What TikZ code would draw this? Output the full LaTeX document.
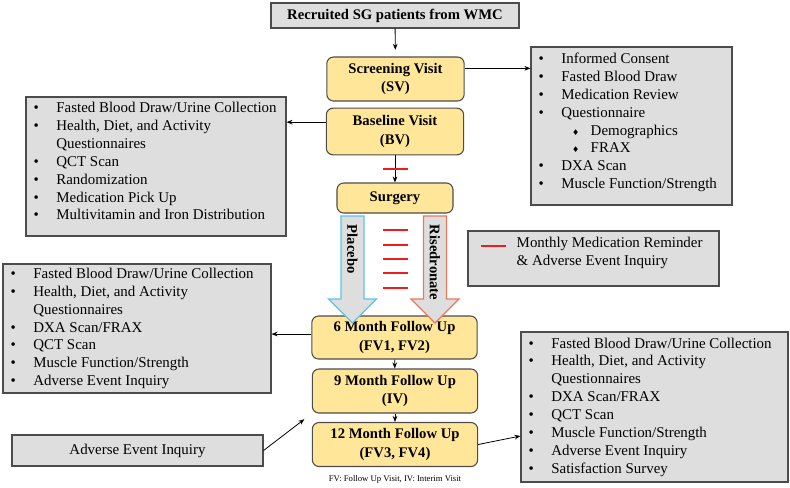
\documentclass[tikz,border=0pt]{standalone}
\usepackage{fontspec}
\setmainfont{Liberation Serif}
\newfontfamily\symfont{DejaVu Sans}
\usetikzlibrary{arrows.meta}

\definecolor{visitfill}{HTML}{FFE699}
\definecolor{boxfill}{HTML}{DEDEDE}
\definecolor{placeboline}{HTML}{5BC3EE}
\definecolor{risedline}{HTML}{E8795C}
\definecolor{remindred}{HTML}{EE1C1C}

% bullets for the lists
\newcommand{\blt}{\makebox[17pt][l]{\textbullet}}
\newcommand{\subblt}{\hspace*{25pt}\makebox[14pt][l]{{\symfont\fontsize{6}{6}\selectfont ♦}}}
\newcommand{\cont}{\hspace*{17pt}}

\begin{document}
\begin{tikzpicture}[x=0.75pt, y=-0.75pt,
	font=\fontsize{11.2}{13.4}\selectfont,
	graybox/.style={draw=black!70, fill=boxfill, line width=0.8pt},
	listtext/.style={align=left, inner sep=0pt, anchor=west},
	visit/.style={draw=black!70, fill=visitfill, line width=0.8pt, rounded corners=5pt,
		font=\fontsize{11}{14}\selectfont\bfseries, align=center,
		minimum width=124pt, minimum height=33pt, inner sep=0pt},
	link/.style={-{Stealth[length=4.5pt, width=3.5pt]}, line width=0.6pt},
	reminder/.style={remindred, line width=1pt},
	bigarrow/.style={fill=boxfill, line width=1pt}]
	\def \tick{12.5}
	\def \shaft{11.5}
	\def \head{24}
	\def \arrtop{216}
	\def \headbase{299}
	\def \tip{323}

	\useasboundingbox (0,0) rectangle (790,487);

	% Main flow
	\node[graybox, minimum width=186pt, minimum height=18.75pt, inner sep=0pt,
		font=\fontsize{11}{13}\selectfont\bfseries] (recruit) at (395,15.5)
		{Recruited SG patients from WMC};
	\node[visit, minimum width=103pt] (sv) at (395.5,79) {Screening Visit\\(SV)};
	\node[visit, minimum width=103pt, minimum height=35pt] (bv) at (395,131.5) {Baseline Visit\\(BV)};
	\node[visit, minimum width=87pt, minimum height=22.5pt] (surgery) at (395,198) {Surgery};
	\node[visit, minimum height=32.25pt] (fu6) at (394.5,337.5) {6 Month Follow Up\\(FV1, FV2)};
	\node[visit] (fu9) at (395,391) {9 Month Follow Up\\(IV)};
	\node[visit] (fu12) at (395,444.5) {12 Month Follow Up\\(FV3, FV4)};
	\node[font=\fontsize{6.5}{8}\selectfont] (note) at (395,479)
		{FV: Follow Up Visit, IV: Interim Visit};

	\draw[link, shorten >=5pt] (recruit) -- (sv);
	\draw[link] (bv) -- (surgery);
	\draw[link] (fu6) -- (fu9);
	\draw[link] (fu9) -- (fu12);

	% Screening list
	\node[graybox, minimum width=150.75pt, minimum height=118.5pt] (svlist) at (631.5,126) {};
	\node[listtext] (svtext) at ([xshift=6pt, yshift=2.6pt]svlist.west) {%
		\blt Informed Consent\\
		\blt Fasted Blood Draw\\
		\blt Medication Review\\
		\blt Questionnaire\\
		\subblt Demographics\\
		\subblt FRAX\\
		\blt DXA Scan\\
		\blt Muscle Function/Strength};
	\draw[link] ([yshift=8pt]sv.east) -- ([yshift=8pt]sv.east -| svlist.west);

	% Baseline list
	\node[graybox, minimum width=195pt, minimum height=104.25pt] (bvlist) at (156,166.5) {};
	\node[listtext] (bvtext) at ([xshift=6pt, yshift=4pt]bvlist.west) {%
		\blt Fasted Blood Draw/Urine Collection\\
		\blt Health, Diet, and Activity\\
		\cont Questionnaires\\
		\blt QCT Scan\\
		\blt Randomization\\
		\blt Medication Pick Up\\
		\blt Multivitamin and Iron Distribution};
	\draw[link] ([yshift=7pt]bv.west) -- ([yshift=7pt]bv.west -| bvlist.east);

	% Monthly reminders
	\draw[reminder] (395-\tick,169) -- (395+\tick,169);
	\foreach \yy in {230,245,259,273,288} {
		\draw[reminder] (395-\tick,\yy) -- (395+\tick,\yy);
	}
	\node[graybox, minimum width=188.25pt, minimum height=41.25pt] (legend) at (593.5,258.5) {};
	\node[listtext] (legendtext) at ([xshift=36.75pt, yshift=4pt]legend.west)
		{Monthly Medication Reminder\\\& Adverse Event Inquiry};
	\draw[reminder] ([xshift=10.5pt, yshift=9.4pt]legend.west) -- ([xshift=29.25pt, yshift=9.4pt]legend.west);

	% Treatment arms
	\foreach \cx/\col in {352.5/placeboline, 435/risedline} {
		\draw[bigarrow, draw=\col] (\cx-\shaft,\arrtop) -- (\cx+\shaft,\arrtop)
			-- (\cx+\shaft,\headbase) -- (\cx+\head,\headbase) -- (\cx,\tip)
			-- (\cx-\head,\headbase) -- (\cx-\shaft,\headbase) -- cycle;
	}
	\node[rotate=-90, anchor=west, font=\fontsize{11}{13}\selectfont\bfseries] (placebo) at (352.5,220) {Placebo};
	\node[rotate=-90, anchor=west, font=\fontsize{11}{13}\selectfont\bfseries] (risedronate) at (435,220) {Risedronate};

	% 6 month list
	\node[graybox, minimum width=201pt, minimum height=96.75pt] (fu6list) at (137,328.5) {};
	\node[listtext] (fu6text) at ([xshift=6pt]fu6list.west) {%
		\blt Fasted Blood Draw/Urine Collection\\
		\blt Health, Diet, and Activity\\
		\cont Questionnaires\\
		\blt DXA Scan/FRAX\\
		\blt QCT Scan\\
		\blt Muscle Function/Strength\\
		\blt Adverse Event Inquiry};
	\draw[link] ([yshift=2.6pt]fu6.west) -- ([yshift=2.6pt]fu6.west -| fu6list.east);

	% 9 month inquiry
	\node[graybox, minimum width=188.25pt, minimum height=23.25pt] (aei) at (137.5,450.5) {Adverse Event Inquiry};
	\draw[link, shorten >=7pt] (aei.east) -- (fu9.south west);

	% 12 month list
	\node[graybox, minimum width=200.25pt, minimum height=112.5pt] (fu12list) at (654.5,407) {};
	\node[listtext] (fu12text) at ([xshift=6pt]fu12list.west) {%
		\blt Fasted Blood Draw/Urine Collection\\
		\blt Health, Diet, and Activity\\
		\cont Questionnaires\\
		\blt DXA Scan/FRAX\\
		\blt QCT Scan\\
		\blt Muscle Function/Strength\\
		\blt Adverse Event Inquiry\\
		\blt Satisfaction Survey};
	\draw[link] (fu12.east) -- ([yshift=-21.75pt]fu12list.west);

\end{tikzpicture}
\end{document}
